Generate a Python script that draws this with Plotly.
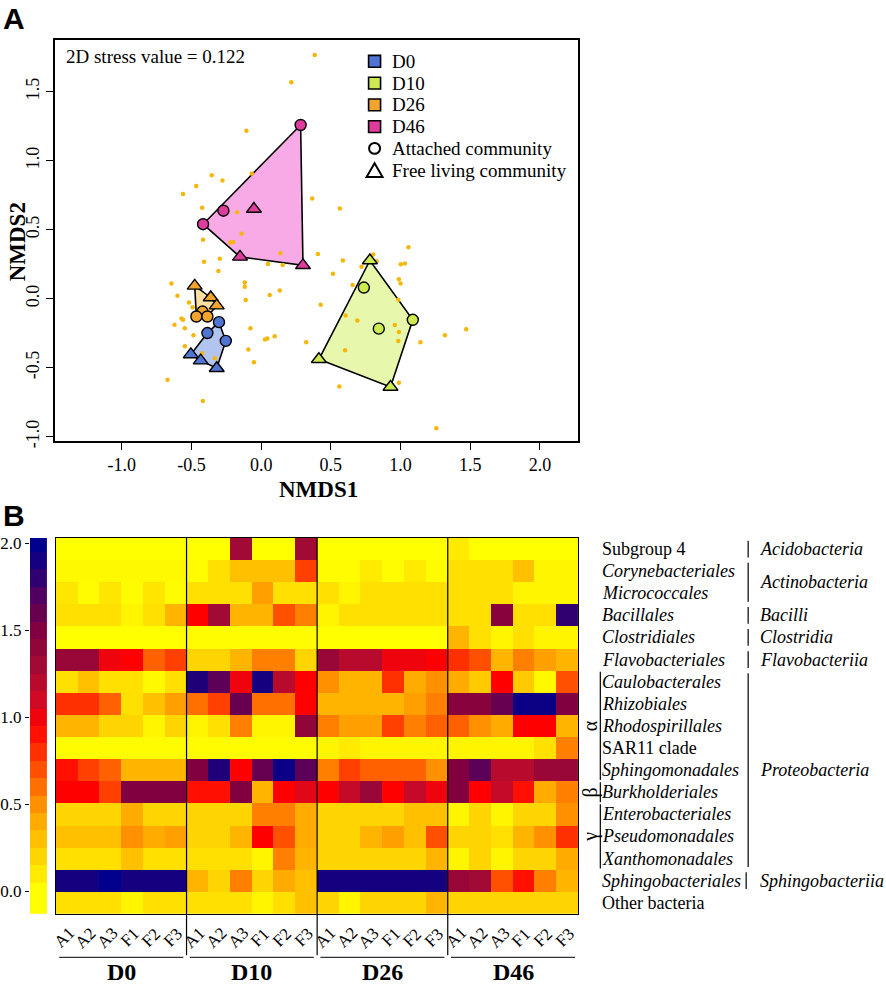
import plotly.graph_objects as go

W, H = 886, 989
SERIF = "Liberation Serif, Times New Roman, serif"


def fx(px):
    return px / W


def fy(py):
    return 1 - py / H


# ---------------- Panel A data ----------------
group_names = ["D0", "D10", "D26", "D46"]
group_colors = ["#5074D2", "#CDEB50", "#F2A42C", "#E03C9E"]
group_fills = ["#B2C5F0", "#E7F7AC", "#FDDFA3", "#F7AAE6"]

att_group = ["D0", "D0", "D0", "D10", "D10", "D10", "D26", "D26", "D26", "D46", "D46", "D46"]
att_x = [-0.303, -0.386, -0.254, 0.737, 0.844, 1.088, -0.421, -0.465, -0.386, 0.283, -0.271, -0.417]
att_y = [-0.170, -0.249, -0.306, 0.081, -0.217, -0.153, -0.093, -0.129, -0.129, 1.259, 0.638, 0.540]

free_group = ["D0", "D0", "D0", "D10", "D10", "D10", "D26", "D26", "D26", "D46", "D46", "D46"]
free_x = [-0.505, -0.434, -0.319, 0.780, 0.414, 0.928, -0.477, -0.362, -0.319, -0.052, -0.152, 0.300]
free_y = [-0.404, -0.449, -0.504, 0.277, -0.439, -0.640, 0.093, 0.009, -0.050, 0.650, 0.303, 0.242]

species_x = [0.384, 0.216, -0.106, -0.068, -0.355, -0.278, -0.466, -0.561, 0.366, -0.424,
             -0.173, 0.564, -0.141, -0.417, -0.221, -0.201, 0.138, 0.407, -0.410, -0.297,
             0.586, 0.049, 0.154, -0.307, 0.515, -0.644, -0.118, -0.118, -0.601, -0.518,
             -0.493, 0.133, 0.061, -0.111, 0.427, -0.572, -0.561, -0.622, -0.548, -0.077,
             -0.486, 0.027, 0.044, 0.097, -0.548, 0.323, -0.092, -0.424, -0.333, -0.052,
             0.561, -0.672, 0.602, 1.057, 0.804, 0.828, 0.720, 1.002, 1.031, 0.988,
             1.000, 0.656, 0.984, 0.606, 0.690, 0.959, 0.988, 0.984, 1.143, 1.318,
             1.471, 0.988, 1.257, -0.419]
species_y = [1.766, 1.568, 1.217, 0.907, 0.894, 0.857, 0.817, 0.758, 0.726, 0.659,
             0.627, 0.654, 0.470, 0.428, 0.407, 0.411, 0.330, 0.324, 0.267, 0.289,
             0.276, 0.251, 0.244, 0.201, 0.181, 0.110, 0.117, 0.086, 0.022, -0.027,
             -0.062, 0.059, 0.027, -0.009, -0.044, -0.143, -0.153, -0.189, -0.215, -0.215,
             -0.265, -0.296, -0.289, -0.272, -0.344, -0.315, -0.368, -0.396, -0.432, -0.461,
             -0.637, -0.588, -0.373, 0.373, 0.320, 0.272, 0.232, 0.249, 0.256, 0.141,
             0.110, 0.100, -0.007, -0.122, -0.158, -0.191, -0.242, -0.306, -0.315, -0.265,
             -0.222, -0.609, -0.939, -0.742]

x_ticks = [-1.0, -0.5, 0.0, 0.5, 1.0, 1.5, 2.0]
y_ticks = [-1.0, -0.5, 0.0, 0.5, 1.0, 1.5]

# ---------------- Panel B data ----------------
order_labels = ["Subgroup 4", "<i>Corynebacteriales</i>", "<i>Micrococcales</i>", "<i>Bacillales</i>",
                "<i>Clostridiales</i>", "<i>Flavobacteriales</i>", "<i>Caulobacterales</i>",
                "<i>Rhizobiales</i>", "<i>Rhodospirillales</i>", "SAR11 clade",
                "<i>Sphingomonadales</i>", "<i>Burkholderiales</i>", "<i>Enterobacteriales</i>",
                "<i>Pseudomonadales</i>", "<i>Xanthomonadales</i>", "<i>Sphingobacteriales</i>",
                "Other bacteria"]
sample_labels = ["A1", "A2", "A3", "F1", "F2", "F3"]
day_labels = ["D0", "D10", "D26", "D46"]

d0_vals = [
    [0, 0, 0, 0, 0, 0],
    [0.03, 0.03, 0.03, 0.03, 0.03, 0.03],
    [0.12, 0.02, 0.12, 0.02, 0.12, 0.02],
    [0.15, 0.15, 0.15, 0.05, 0.15, 0.35],
    [0, 0, 0, 0, 0, 0],
    [1.35, 1.35, 1.0, 0.95, 0.65, 0.75],
    [0.15, 0.3, 0.15, 0.15, 0.03, 0.15],
    [0.8, 0.8, 0.65, 0.15, 0.3, 0.45],
    [0.35, 0.35, 0.2, 0.2, 0.05, 0.2],
    [0.02, 0.02, 0.02, 0.02, 0.02, 0.02],
    [0.9, 0.75, 0.65, 0.35, 0.35, 0.35],
    [0.95, 0.95, 0.75, 1.5, 1.5, 1.5],
    [0.2, 0.2, 0.2, 0.4, 0.2, 0.2],
    [0.3, 0.3, 0.3, 0.5, 0.4, 0.45],
    [0.15, 0.15, 0.15, 0.3, 0.15, 0.15],
    [1.9, 1.9, 2.0, 1.9, 1.9, 1.9],
    [0.15, 0.15, 0.15, 0.05, 0.15, 0.15],
]
d10_vals = [
    [0, 0, 1.3, 0, 0, 1.3],
    [0.02, 0.15, 0.3, 0.3, 0.3, 0.75],
    [0.15, 0.15, 0.15, 0.45, 0.15, 0.15],
    [0.95, 1.3, 0.35, 0.35, 0.7, 0.55],
    [0.02, 0.02, 0.02, 0.02, 0.02, 0.02],
    [0.2, 0.2, 0.35, 0.55, 0.55, 0.2],
    [1.85, 1.65, 1.0, 1.9, 1.2, 0.95],
    [0.6, 0.75, 1.6, 0.6, 0.6, 0.95],
    [0.05, 0.15, 0.55, 0.05, 0.05, 1.4],
    [0.02, 0.02, 0.02, 0.02, 0.02, 0.02],
    [1.5, 1.85, 0.95, 1.6, 1.95, 1.65],
    [0.9, 0.9, 1.5, 0.35, 0.95, 1.05],
    [0.2, 0.2, 0.2, 0.55, 0.55, 0.4],
    [0.2, 0.2, 0.35, 0.95, 0.7, 0.4],
    [0.15, 0.15, 0.15, 0.05, 0.55, 0.35],
    [0.35, 0.2, 0.55, 0.2, 0.4, 0.3],
    [0.15, 0.15, 0.15, 0.05, 0.15, 0.3],
]
d26_vals = [
    [0, 0, 0, 0, 0, 0],
    [0.02, 0.02, 0.1, 0.02, 0.1, 0.02],
    [0.15, 0.05, 0.15, 0.15, 0.15, 0.15],
    [0.05, 0.15, 0.15, 0.15, 0.15, 0.15],
    [0, 0, 0, 0, 0, 0],
    [1.35, 1.2, 1.2, 1.0, 1.0, 0.95],
    [0.5, 0.35, 0.35, 0.8, 0.4, 0.5],
    [0.35, 0.35, 0.35, 0.35, 0.45, 0.55],
    [0.55, 0.45, 0.45, 0.75, 0.55, 0.65],
    [0.05, 0.1, 0.05, 0.05, 0.05, 0.05],
    [0.55, 0.75, 0.65, 0.65, 0.65, 0.5],
    [0.95, 1.15, 1.35, 0.95, 1.15, 1.0],
    [0.2, 0.2, 0.2, 0.2, 0.3, 0.3],
    [0.2, 0.2, 0.35, 0.45, 0.3, 0.7],
    [0.2, 0.2, 0.2, 0.2, 0.2, 0.35],
    [1.9, 1.9, 1.9, 1.9, 1.9, 1.9],
    [0.2, 0.05, 0.2, 0.2, 0.2, 0.35],
]
d46_vals = [
    [0.1, 0, 0, 0, 0, 0],
    [0.15, 0.15, 0.15, 0.3, 0.05, 0.05],
    [0.15, 0.15, 0.15, 0.05, 0.05, 0.05],
    [0.15, 0.15, 1.45, 0.15, 0.15, 1.8],
    [0.35, 0.15, 0.05, 0.15, 0.05, 0.05],
    [0.8, 0.7, 0.35, 0.55, 0.45, 0.35],
    [0.4, 0.25, 0.95, 0.25, 0.03, 0.7],
    [1.45, 1.45, 1.6, 1.95, 1.95, 1.5],
    [0.65, 0.5, 0.4, 0.95, 0.95, 0.35],
    [0.05, 0.05, 0.05, 0.05, 0.15, 0.55],
    [1.5, 1.65, 1.2, 1.2, 1.35, 1.35],
    [1.5, 0.95, 1.15, 0.9, 0.4, 0.55],
    [0.05, 0.2, 0.05, 0.2, 0.2, 0.5],
    [0.2, 0.2, 0.15, 0.35, 0.5, 0.8],
    [0.05, 0.2, 0.05, 0.2, 0.2, 0.4],
    [1.35, 1.3, 0.7, 0.9, 0.55, 0.35],
    [0.2, 0.2, 0.2, 0.2, 0.2, 0.2],
]

colorbar_levels = [-0.1, 0.0, 0.1, 0.2, 0.3, 0.4, 0.5, 0.6, 0.7, 0.8, 0.9, 1.0,
                   1.1, 1.2, 1.3, 1.4, 1.5, 1.6, 1.7, 1.8, 1.9, 2.0]
colorbar_ticks = [0.0, 0.5, 1.0, 1.5, 2.0]

heat_scale = [[0.0, "#FFFF00"], [0.075, "#FFE000"], [0.15, "#FFC000"], [0.225, "#FFA000"],
              [0.275, "#FF8000"], [0.325, "#FF6000"], [0.375, "#FF4000"], [0.425, "#FF2000"],
              [0.475, "#FF0000"], [0.55, "#D00A24"], [0.65, "#A00A34"], [0.75, "#800040"],
              [0.85, "#500060"], [0.925, "#200078"], [1.0, "#00008C"]]

# class annotations: (label, first row, last row, label row)
class_groups = [("Acidobacteria", 0, 0, 0), ("Actinobacteria", 1, 2, 1.5), ("Bacilli", 3, 3, 3),
                ("Clostridia", 4, 4, 4), ("Flavobacteriia", 5, 5, 5),
                ("Proteobacteria", 6, 14, 10), ("Sphingobacteriia", 15, 15, 15)]
subclass_groups = [("α", 6, 10, 8), ("β", 11, 11, 11), ("γ", 12, 14, 13)]


def convex_hull(points):
    pts = sorted(set(points))
    if len(pts) <= 2:
        return pts

    def cross(o, a, b):
        return (a[0] - o[0]) * (b[1] - o[1]) - (a[1] - o[1]) * (b[0] - o[0])

    lower = []
    for p in pts:
        while len(lower) >= 2 and cross(lower[-2], lower[-1], p) <= 0:
            lower.pop()
        lower.append(p)
    upper = []
    for p in reversed(pts):
        while len(upper) >= 2 and cross(upper[-2], upper[-1], p) <= 0:
            upper.pop()
        upper.append(p)
    return lower[:-1] + upper[:-1]


fig = go.Figure()

# hull polygons
for g, col, fill in zip(group_names, group_colors, group_fills):
    pts = [(x, y) for gg, x, y in zip(att_group, att_x, att_y) if gg == g]
    pts += [(x, y) for gg, x, y in zip(free_group, free_x, free_y) if gg == g]
    h = convex_hull(pts)
    hx = [p[0] for p in h] + [h[0][0]]
    hy = [p[1] for p in h] + [h[0][1]]
    fig.add_trace(go.Scatter(x=hx, y=hy, mode="lines", fill="toself", fillcolor=fill,
                             line=dict(color="black", width=1.6), hoverinfo="skip",
                             showlegend=False, xaxis="x", yaxis="y"))

# species dots
fig.add_trace(go.Scatter(x=species_x, y=species_y, mode="markers",
                         marker=dict(color="#F6B70C", size=4.5, line=dict(width=0)),
                         showlegend=False, xaxis="x", yaxis="y"))

# sample markers
for g, col in zip(group_names, group_colors):
    ax = [x for gg, x in zip(att_group, att_x) if gg == g]
    ay = [y for gg, y in zip(att_group, att_y) if gg == g]
    fx_ = [x for gg, x in zip(free_group, free_x) if gg == g]
    fy_ = [y for gg, y in zip(free_group, free_y) if gg == g]
    fig.add_trace(go.Scatter(x=ax, y=ay, mode="markers",
                             marker=dict(symbol="circle", size=11, color=col,
                                         line=dict(color="black", width=1.4)),
                             showlegend=False, xaxis="x", yaxis="y"))
    fig.add_trace(go.Scatter(x=fx_, y=fy_, mode="markers",
                             marker=dict(symbol="triangle-up", size=13, color=col,
                                         line=dict(color="black", width=1.4)),
                             showlegend=False, xaxis="x", yaxis="y"))

# heatmap
n_rows = len(order_labels)
z = [d0_vals[r] + d10_vals[r] + d26_vals[r] + d46_vals[r] for r in range(n_rows)]
n_cols = len(z[0])
col_labels = sample_labels * len(day_labels)
fig.add_trace(go.Heatmap(z=z, x=list(range(n_cols)), y=list(range(n_rows)),
                         colorscale=heat_scale, zmin=0, zmax=2, showscale=False,
                         xaxis="x3", yaxis="y3", xgap=0, ygap=0))

# colour key
fig.add_trace(go.Heatmap(z=[[v] for v in colorbar_levels], x=[0], y=colorbar_levels,
                         colorscale=heat_scale, zmin=0, zmax=2, showscale=False,
                         xaxis="x4", yaxis="y4"))

serif_font = dict(family=SERIF, color="black")

fig.update_layout(
    width=W, height=H, margin=dict(l=0, r=0, t=0, b=0),
    paper_bgcolor="white", plot_bgcolor="white", showlegend=False,
    xaxis=dict(domain=[fx(54), fx(578)], range=[-1.48, 2.276], anchor="y",
               tickvals=x_ticks, ticktext=["%.1f" % v for v in x_ticks],
               tickfont=dict(size=18, **serif_font), showline=True, mirror=True,
               linecolor="black", linewidth=1.5, ticks="outside", ticklen=7,
               tickcolor="black", tickwidth=1.3, showgrid=False, zeroline=False),
    yaxis=dict(domain=[fy(442), fy(36)], range=[-1.032, 1.878], anchor="x",
               tickvals=y_ticks, ticktext=["%.1f" % v for v in y_ticks], tickangle=-90,
               tickfont=dict(size=18, **serif_font), showline=True, mirror=True,
               linecolor="black", linewidth=1.5, ticks="outside", ticklen=7,
               tickcolor="black", tickwidth=1.3, showgrid=False, zeroline=False),
    xaxis3=dict(domain=[fx(55), fx(578)], range=[-0.5, n_cols - 0.5], anchor="y3",
                showticklabels=False, ticks="",
                showline=True, mirror=True, linecolor="black", linewidth=1.2,
                showgrid=False, zeroline=False),
    yaxis3=dict(domain=[fy(920), fy(540)], range=[n_rows - 0.5, -0.5], anchor="x3",
                showticklabels=False, ticks="", showline=True, mirror=True,
                linecolor="black", linewidth=1.2, showgrid=False, zeroline=False),
    xaxis4=dict(domain=[fx(29), fx(46)], range=[-0.5, 0.5], anchor="y4",
                visible=False),
    yaxis4=dict(domain=[fy(920), fy(540)], range=[-0.13, 2.03], anchor="x4",
                tickvals=colorbar_ticks, ticktext=["%.1f" % v for v in colorbar_ticks],
                tickfont=dict(size=17, **serif_font), ticks="outside", ticklen=4,
                tickcolor="black", showline=False, showgrid=False, zeroline=False),
)

shapes = []
annotations = []

# panel letters
annotations.append(dict(text="<b>A</b>", x=fx(0), y=fy(15), xref="paper", yref="paper",
                        xanchor="left", yanchor="middle", showarrow=False,
                        font=dict(family="Liberation Sans", size=30, color="black")))
annotations.append(dict(text="<b>B</b>", x=fx(0), y=fy(517), xref="paper", yref="paper",
                        xanchor="left", yanchor="middle", showarrow=False,
                        font=dict(family="Liberation Sans", size=30, color="black")))

# axis titles
annotations.append(dict(text="<b>NMDS1</b>", x=fx(318), y=fy(491), xref="paper", yref="paper",
                        showarrow=False, xanchor="center", yanchor="middle",
                        font=dict(size=23, **serif_font)))
annotations.append(dict(text="<b>NMDS2</b>", x=fx(16), y=fy(240), xref="paper", yref="paper",
                        showarrow=False, textangle=-90, xanchor="center", yanchor="middle",
                        font=dict(size=23, **serif_font)))

# stress text
annotations.append(dict(text="2D stress value = 0.122", x=fx(63), y=fy(53), xref="paper",
                        yref="paper", showarrow=False, xanchor="left", yanchor="middle",
                        font=dict(size=19, **serif_font)))

# legend
leg_rows = [58, 80, 102, 124]
for g, col, yy in zip(group_names, group_colors, leg_rows):
    shapes.append(dict(type="rect", xref="paper", yref="paper", x0=fx(368), x1=fx(380),
                       y0=fy(yy + 6), y1=fy(yy - 6), fillcolor=col,
                       line=dict(color="black", width=1.6)))
    annotations.append(dict(text=g, x=fx(389), y=fy(yy), xref="paper", yref="paper",
                            showarrow=False, xanchor="left", yanchor="middle",
                            font=dict(size=19, **serif_font)))
shapes.append(dict(type="circle", xref="paper", yref="paper", x0=fx(368.5), x1=fx(379.5),
                   y0=fy(151.5), y1=fy(140.5), fillcolor="white",
                   line=dict(color="black", width=2)))
annotations.append(dict(text="Attached community", x=fx(389), y=fy(146), xref="paper",
                        yref="paper", showarrow=False, xanchor="left", yanchor="middle",
                        font=dict(size=19, **serif_font)))
shapes.append(dict(type="path", xref="paper", yref="paper",
                   path="M %f,%f L %f,%f L %f,%f Z" % (fx(366), fy(175), fx(382), fy(175),
                                                      fx(374), fy(161)),
                   fillcolor="white", line=dict(color="black", width=2)))
annotations.append(dict(text="Free living community", x=fx(389), y=fy(168), xref="paper",
                        yref="paper", showarrow=False, xanchor="left", yanchor="middle",
                        font=dict(size=19, **serif_font)))

# rotated sample labels under the heatmap
for c, lab in enumerate(col_labels):
    annotations.append(dict(text=lab, x=c - 0.12, y=fy(944), xref="x3", yref="paper",
                            showarrow=False, textangle=-45, xanchor="center",
                            yanchor="middle", font=dict(size=17, **serif_font)))

# heatmap group separators, underlines and day labels
for i, d in enumerate(day_labels):
    if i > 0:
        shapes.append(dict(type="line", xref="x3", yref="paper", x0=i * 6 - 0.5,
                           x1=i * 6 - 0.5, y0=fy(962), y1=fy(540),
                           line=dict(color="black", width=1.2)))
    shapes.append(dict(type="line", xref="x3", yref="paper", x0=i * 6 - 0.35,
                       x1=i * 6 + 5.35, y0=fy(964), y1=fy(964),
                       line=dict(color="#333333", width=1.3)))
    annotations.append(dict(text="<b>%s</b>" % d, x=i * 6 + 2.5, y=fy(979), xref="x3",
                            yref="paper", showarrow=False, xanchor="center",
                            yanchor="middle", font=dict(size=24, **serif_font)))

# order labels
for r, lab in enumerate(order_labels):
    annotations.append(dict(text=lab, x=fx(600), y=r, xref="paper", yref="y3",
                            showarrow=False, xanchor="left", yanchor="middle",
                            font=dict(size=18, **serif_font)))

# class labels and bars
for lab, r0, r1, rl in class_groups:
    bx = 746 if lab == "Sphingobacteriia" else 748
    shapes.append(dict(type="line", xref="paper", yref="y3", x0=fx(bx), x1=fx(bx),
                       y0=r0 - 0.38, y1=r1 + 0.38, line=dict(color="black", width=1.2)))
    annotations.append(dict(text="<i>%s</i>" % lab, x=fx(758), y=rl, xref="paper",
                            yref="y3", showarrow=False, xanchor="left", yanchor="middle",
                            font=dict(size=18, **serif_font)))

# subclass bars and greek letters
for lab, r0, r1, rl in subclass_groups:
    shapes.append(dict(type="line", xref="paper", yref="y3", x0=fx(600), x1=fx(600),
                       y0=r0 - 0.45, y1=r1 + 0.45, line=dict(color="black", width=1.2)))
    annotations.append(dict(text=lab, x=fx(590), y=rl, xref="paper", yref="y3",
                            showarrow=False, textangle=-90, xanchor="center",
                            yanchor="middle", font=dict(size=20, **serif_font)))

fig.update_layout(shapes=shapes, annotations=annotations)
fig.write_html("out.html")
